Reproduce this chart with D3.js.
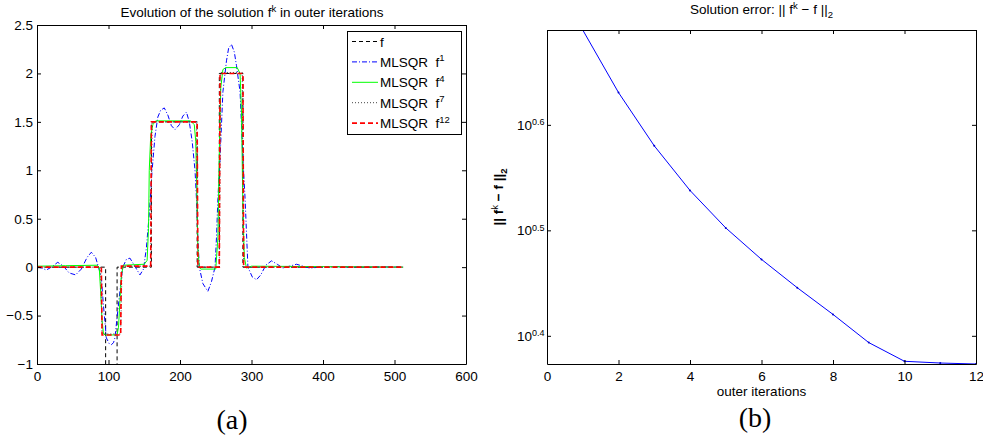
<!DOCTYPE html>
<html>
<head>
<meta charset="utf-8">
<script src="https://cdn.jsdelivr.net/npm/d3@7"></script>
<style>
body { margin: 0; background: #fff; }
svg { display: block; font-family: "Liberation Sans", Arial, sans-serif; }
</style>
</head>
<body>
<svg id="chart" width="983" height="441"></svg>
<script>
"use strict";

// ---------- panel (a): evolution of the solution ----------
const xTicksA = [0, 100, 200, 300, 400, 500, 600];
const yTicksA = [-1, -0.5, 0, 0.5, 1, 1.5, 2, 2.5];

// true signal f
const fTrue = [[1,0],[96,0],[96,-1.3],[112,-1.3],[112,0],[160,0],[160,1.5],[224,1.5],[224,0],
    [255,0],[255,2],[288,2],[288,0],[512,0]];

// MLSQR after 1 outer iteration
const mlsqr1 = [[1,0],[7,-0.01],[13,-0.03],[20,0],[29,0.05],[37,0.01],[45,-0.06],[54,-0.08],[62,-0.02],
    [70,0.1],[76,0.154],[82,0.1],[86,0],[90,-0.11],[93,-0.4],[97,-0.73],[101,-0.79],[104,-0.8],
    [107,-0.78],[109,-0.73],[113,-0.45],[118,-0.11],[120,0],[125,0.08],[130,0.093],[136,0.02],
    [144,-0.08],[149,-0.02],[153,0.2],[157,0.55],[161,1.0],[165,1.35],[169,1.55],[173,1.62],
    [178,1.644],[183,1.57],[188,1.46],[193,1.42],[199,1.47],[204,1.56],[209,1.6],[213,1.5],
    [217,1.3],[221,1.0],[223,0.71],[225,0.3],[227,0],[232,-0.17],[239,-0.25],[244,-0.15],
    [249,0],[251,0.3],[253,0.71],[256,1.12],[260,1.81],[265,2.13],[268,2.26],[272,2.3],
    [276,2.22],[279,2.08],[284,1.81],[288,1.12],[291,0.71],[295,0],[301,-0.1],[307,-0.13],
    [313,-0.08],[320,0.02],[328,0.065],[336,0.03],[344,-0.01],[353,0.01],[363,0.03],[372,0.01],
    [382,-0.01],[395,0],[420,0.005],[450,0],[480,0.003],[512,0]];

// MLSQR after 4 outer iterations
const mlsqr4 = [[1,0.01],[40,0.015],[84,0.02],[87,0],[89,-0.25],[91,-0.55],[93,-0.69],[96,-0.7],
    [112,-0.7],[114,-0.62],[116,-0.35],[118,-0.08],[121,0.02],[150,0.03],[154,0.07],[156,0.4],
    [157,1.0],[159,1.35],[162,1.47],[166,1.51],[215,1.51],[220,1.47],[222,1.3],[223.5,0.8],
    [225,0.2],[227,0],[229,-0.02],[250,-0.02],[253,0.3],[255,1.2],[257,1.85],[260,2.04],
    [264,2.06],[280,2.06],[284,2.0],[286,1.6],[288,0.6],[290,0.1],[293,-0.01],[300,0.01],[512,0]];

// MLSQR after 7 outer iterations
const mlsqr7 = [[1,0],[89,0],[91,-0.69],[117,-0.69],[119,0.01],[159,0.01],[161,1.5],[223,1.5],
    [225,0],[255,0],[257,2.01],[287,2.01],[289,0],[512,0]];

// MLSQR after 12 outer iterations
const mlsqr12 = [[1,0],[90,0],[91,-0.7],[117,-0.7],[118,0.01],[159,0.01],[160,1.5],[224,1.5],
    [225,0],[255,0],[256,2],[288,2],[289,0],[512,0]];

const legendNames = ["f", "MLSQR", "MLSQR", "MLSQR", "MLSQR"];
const legendSup = ["", "1", "4", "7", "12"];

// ---------- panel (b): solution error ----------
const iterB = [1, 2, 3, 4, 5, 6, 7, 8, 9, 10, 11, 12];
const errB = [4.897, 4.272, 3.803, 3.450, 3.179, 2.968, 2.790, 2.632, 2.475, 2.376, 2.367, 2.362];
const xTicksB = [0, 2, 4, 6, 8, 10, 12];
const yExpB = [0.4, 0.5, 0.6];

const FONT = 13.5;
const svg = d3.select("#chart");

function frame(g, x, y, xt, yt, fmtX, fmtY, padY) {
    const [x0, x1] = x.range();
    const [y0, y1] = y.range();
    g.append("g").attr("class", "ax").attr("transform", `translate(0,${y0})`)
        .call(d3.axisBottom(x).tickValues(xt).tickSizeInner(-4).tickSizeOuter(0).tickPadding(7).tickFormat(fmtX));
    g.append("g").attr("class", "ax").attr("transform", `translate(0,${y1})`)
        .call(d3.axisTop(x).tickValues(xt).tickSizeInner(-4).tickSizeOuter(0).tickFormat(""));
    g.append("g").attr("class", "ax yl").attr("transform", `translate(${x0},0)`)
        .call(d3.axisLeft(y).tickValues(yt).tickSizeInner(-4).tickSizeOuter(0).tickPadding(padY).tickFormat(fmtY));
    g.append("g").attr("class", "ax").attr("transform", `translate(${x1},0)`)
        .call(d3.axisRight(y).tickValues(yt).tickSizeInner(-4).tickSizeOuter(0).tickFormat(""));
    g.selectAll(".ax").attr("font-family", null).attr("font-size", FONT);
    g.selectAll(".ax path, .ax line").attr("stroke", "#000");
    g.selectAll(".ax text").attr("fill", "#000");
}

// panel (a)
const xA = d3.scaleLinear().domain([0, 600]).range([37, 466]);
const yA = d3.scaleLinear().domain([-1, 2.5]).range([364, 25]);
const gA = svg.append("g");

svg.append("clipPath").attr("id", "clipA").append("rect")
    .attr("x", 37).attr("y", 25).attr("width", 429).attr("height", 339);

const seriesA = [
    {data: fTrue, color: "#000", dash: "4,3", w: 1},
    {data: mlsqr1, color: "#0000ff", dash: "5,2,1,2", w: 1},
    {data: mlsqr4, color: "#00ff00", dash: null, w: 1},
    {data: mlsqr7, color: "#444", dash: "1,2", w: 1},
    {data: mlsqr12, color: "#ff0000", dash: "5,3", w: 1.6}
];

const lineA = d3.line().x(d => xA(d[0])).y(d => yA(d[1]));
gA.append("g").attr("clip-path", "url(#clipA)")
    .selectAll("path").data(seriesA).join("path")
    .attr("d", s => lineA(s.data))
    .attr("fill", "none")
    .attr("stroke", s => s.color)
    .attr("stroke-width", s => s.w)
    .attr("stroke-dasharray", s => s.dash);

frame(gA, xA, yA, xTicksA, yTicksA, d3.format("~g"), d3.format("~g"), 4);

gA.append("text").attr("x", 252).attr("y", 17).attr("text-anchor", "middle").attr("font-size", FONT)
    .call(t => {
        t.append("tspan").text("Evolution of the solution f");
        t.append("tspan").attr("dy", -5).attr("font-size", 9.5).text("k");
        t.append("tspan").attr("dy", 5).text(" in outer iterations");
    });

// legend
const leg = gA.append("g");
leg.append("rect").attr("x", 347.5).attr("y", 31.5).attr("width", 114).attr("height", 103)
    .attr("fill", "#fff").attr("stroke", "#000");
seriesA.forEach((s, i) => {
    const cy = 41.5 + i * 20.4;
    leg.append("line").attr("x1", 352).attr("x2", 378).attr("y1", cy).attr("y2", cy)
        .attr("stroke", s.color).attr("stroke-width", s.w).attr("stroke-dasharray", s.dash);
    const t = leg.append("text").attr("x", 380).attr("y", cy + 5).attr("font-size", FONT);
    if (legendSup[i] === "") {
        t.text(legendNames[i]);
    } else {
        t.append("tspan").text(legendNames[i] + "\u00a0\u00a0f");
        t.append("tspan").attr("dy", -5.5).attr("font-size", 9.5).text(legendSup[i]);
    }
});

svg.append("text").attr("x", 232).attr("y", 429).attr("text-anchor", "middle")
    .attr("font-family", "'Liberation Serif', serif").attr("font-size", 28).text("(a)");

// panel (b)
const xB = d3.scaleLinear().domain([0, 12]).range([547, 976]);
const yB = d3.scaleLog().domain([d3.min(errB), d3.max(errB)]).range([364, 30]);
const gB = svg.append("g");

svg.append("clipPath").attr("id", "clipB").append("rect")
    .attr("x", 547).attr("y", 30).attr("width", 429).attr("height", 334);

const lineB = d3.line().x((d, i) => xB(iterB[i])).y(d => yB(d));
const plotB = gB.append("g").attr("clip-path", "url(#clipB)");
plotB.append("path").attr("d", lineB(errB)).attr("fill", "none")
    .attr("stroke", "#0000ff").attr("stroke-width", 1);
plotB.selectAll("circle").data(errB).join("circle")
    .attr("cx", (d, i) => xB(iterB[i])).attr("cy", d => yB(d)).attr("r", 1).attr("fill", "#0000cc");

frame(gB, xB, yB, xTicksB, yExpB.map(e => Math.pow(10, e)), d3.format("d"), () => "10", 2.5);

gB.selectAll(".yl .tick text").each(function(d, i) {
    const t = d3.select(this);
    t.append("tspan").attr("dy", "-0.5em").attr("font-size", 9).text(yExpB[i].toFixed(1));
});

gB.append("text").attr("x", 761.5).attr("y", 14).attr("text-anchor", "middle").attr("font-size", FONT)
    .call(t => {
        t.append("tspan").text("Solution error: || f");
        t.append("tspan").attr("dy", -5).attr("font-size", 9.5).text("k");
        t.append("tspan").attr("dy", 5).text(" \u2212 f ||");
        t.append("tspan").attr("dy", 4).attr("font-size", 9.5).text("2");
    });

gB.append("text").attr("transform", "translate(503,197) rotate(-90)").attr("text-anchor", "middle")
    .attr("font-size", FONT).attr("font-weight", "bold")
    .call(t => {
        t.append("tspan").text("|| f");
        t.append("tspan").attr("dy", -5).attr("font-size", 9.5).attr("font-weight", "normal").text("k");
        t.append("tspan").attr("dy", 5).text(" \u2212 f ||");
        t.append("tspan").attr("dy", 4).attr("font-size", 9.5).text("2");
    });

gB.append("text").attr("x", 761.5).attr("y", 396).attr("text-anchor", "middle")
    .attr("font-size", FONT).text("outer iterations");

svg.append("text").attr("x", 755).attr("y", 427).attr("text-anchor", "middle")
    .attr("font-family", "'Liberation Serif', serif").attr("font-size", 28).text("(b)");
</script>
</body>
</html>
